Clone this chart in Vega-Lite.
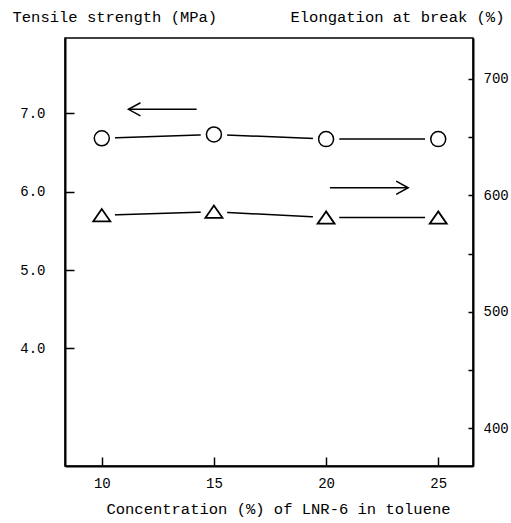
{
  "$schema": "https://vega.github.io/schema/vega-lite/v6.json",
  "autosize": "none",
  "width": 408,
  "height": 428,
  "padding": {"left": 65, "top": 38, "right": 38, "bottom": 57},
  "background": "white",
  "config": {
    "view": {"stroke": "black", "strokeWidth": 1.5},
    "font": "Liberation Mono",
    "axis": {
      "grid": false,
      "domainColor": "black",
      "domainWidth": 2,
      "tickColor": "black",
      "tickWidth": 1.5,
      "labelColor": "black",
      "labelFont": "Liberation Mono",
      "labelFontSize": 14,
      "titleFont": "Liberation Mono",
      "titleFontSize": 15.5,
      "titleFontWeight": "normal",
      "titleColor": "black"
    }
  },
  "layer": [
    {
      "data": {
        "values": [
          {"kind": "pt", "x": 10, "y": 6.68},
          {"kind": "pt", "x": 15, "y": 6.73},
          {"kind": "pt", "x": 20, "y": 6.67},
          {"kind": "pt", "x": 25, "y": 6.67},
          {"kind": "arrow", "x": 11.19, "x2": 14.23, "y": 7.05}
        ]
      },
      "encoding": {
        "x": {
          "field": "x", "type": "quantitative",
          "scale": {"domain": [8.36, 26.55], "nice": false, "zero": false},
          "axis": {
            "values": [10, 15, 20, 25],
            "tickSize": -9,
            "labelPadding": 19,
            "title": "Concentration (%) of LNR-6 in toluene",
            "titleX": 213, "titleY": 42, "titleAlign": "center", "titleBaseline": "middle", "titleAnchor": "start"
          }
        },
        "y": {
          "field": "y", "type": "quantitative",
          "scale": {"domain": [2.5, 7.96], "nice": false, "zero": false},
          "axis": {
            "orient": "left",
            "values": [4, 5, 6, 7],
            "format": ".1f",
            "tickSize": -9,
            "labelPadding": 29,
            "title": "Tensile strength (MPa)",
            "titleAngle": 0,
            "titleX": -53, "titleY": -22, "titleAlign": "left", "titleBaseline": "middle", "titleAnchor": "start"
          }
        }
      },
      "layer": [
        {"transform": [{"filter": "datum.kind == 'pt'"}], "mark": {"type": "line", "color": "black", "strokeWidth": 1.5}},
        {"transform": [{"filter": "datum.kind == 'pt'"}], "mark": {"type": "point", "shape": "circle", "filled": true, "color": "white", "opacity": 1, "size": 700}},
        {"transform": [{"filter": "datum.kind == 'pt'"}], "mark": {"type": "point", "shape": "circle", "filled": false, "color": "black", "opacity": 1, "strokeWidth": 1.5, "size": 225}},
        {"transform": [{"filter": "datum.kind == 'arrow'"}], "mark": {"type": "rule", "color": "black", "strokeWidth": 1.5}, "encoding": {"x2": {"field": "x2"}}},
        {"transform": [{"filter": "datum.kind == 'arrow'"}], "mark": {"type": "point", "shape": "M1,-0.55L0,0L1,0.55", "filled": false, "color": "black", "opacity": 1, "strokeWidth": 1.5, "size": 576}}
      ]
    },
    {
      "data": {
        "values": [
          {"kind": "pt", "x": 10, "y": 583},
          {"kind": "pt", "x": 15, "y": 586},
          {"kind": "pt", "x": 20, "y": 581},
          {"kind": "pt", "x": 25, "y": 581},
          {"kind": "arrow", "x": 20.17, "x2": 23.66, "y": 606.6}
        ]
      },
      "encoding": {
        "x": {
          "field": "x", "type": "quantitative",
          "scale": {"domain": [8.36, 26.55], "nice": false, "zero": false}
        },
        "y": {
          "field": "y", "type": "quantitative",
          "scale": {"domain": [367.6, 735.2], "nice": false, "zero": false},
          "axis": {
            "orient": "right",
            "values": [400, 450, 500, 550, 600, 650, 700],
            "labelExpr": "datum.value % 100 == 0 ? datum.label : ''",
            "tickSize": -5,
            "labelPadding": 15,
            "title": "Elongation at break (%)",
            "titleAngle": 0,
            "titleX": -183, "titleY": -22, "titleAlign": "left", "titleBaseline": "middle", "titleAnchor": "start"
          }
        }
      },
      "layer": [
        {"transform": [{"filter": "datum.kind == 'pt'"}], "mark": {"type": "line", "color": "black", "strokeWidth": 1.5}},
        {"transform": [{"filter": "datum.kind == 'pt'"}], "mark": {"type": "point", "shape": "circle", "filled": true, "color": "white", "opacity": 1, "size": 700}},
        {"transform": [{"filter": "datum.kind == 'pt'"}], "mark": {"type": "point", "shape": "M0,-0.72L-1,0.72L1,0.72Z", "filled": false, "color": "black", "opacity": 1, "strokeWidth": 1.8, "size": 289}},
        {"transform": [{"filter": "datum.kind == 'arrow'"}], "mark": {"type": "rule", "color": "black", "strokeWidth": 1.5}, "encoding": {"x": {"field": "x2", "type": "quantitative"}, "x2": {"field": "x"}}},
        {"transform": [{"filter": "datum.kind == 'arrow'"}], "mark": {"type": "point", "shape": "M-1,-0.55L0,0L-1,0.55", "filled": false, "color": "black", "opacity": 1, "strokeWidth": 1.5, "size": 576}, "encoding": {"x": {"field": "x2", "type": "quantitative"}}}
      ]
    }
  ],
  "resolve": {"scale": {"y": "independent"}}
}
